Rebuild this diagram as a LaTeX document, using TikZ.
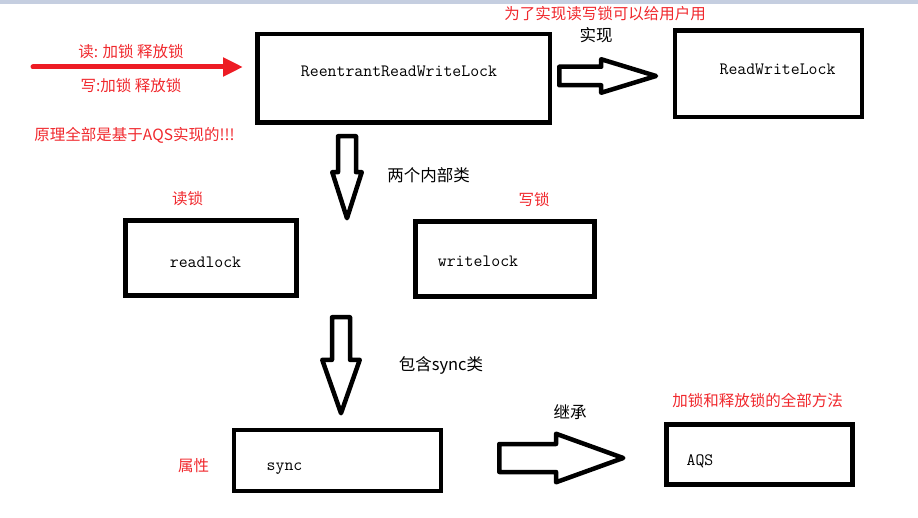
\documentclass[tikz,border=0pt]{standalone}
\usepackage{fontspec}
\newfontfamily\cjk{Noto Sans CJK SC}
\usepackage{tikz}
\usetikzlibrary{shapes.arrows, arrows.meta}
\definecolor{inkred}{RGB}{237,28,36}
\definecolor{notered}{RGB}{240,40,45}
\definecolor{topbar}{RGB}{197,206,224}

\begin{document}
\begin{tikzpicture}[
  x=1pt, y=-1pt,
  box/.style={rectangle, draw, line width=4.5pt, inner sep=0pt},
  code/.style={font=\ttfamily\fontsize{17.3}{17}\selectfont, inner sep=0pt, anchor=base},
  memo/.style={font=\cjk\fontsize{15.5}{16}\selectfont, text=notered, inner sep=0pt},
  remark/.style={font=\cjk\fontsize{16.5}{17}\selectfont, inner sep=0pt},
  fat/.style={single arrow, draw, line width=4.5pt, line join=round, inner xsep=0pt, minimum width=0pt, anchor=tail},
  fatdown/.style={fat, shape border rotate=270, inner ysep=0pt, inner xsep=#1},
  line/.style={-{Triangle[length=20pt,width=18pt]}, line width=5pt, line cap=round, draw=inkred}
]
\useasboundingbox (0,0) rectangle (918,518);
\fill[topbar] (0,0) rectangle (918,4);

% classes
\node[box, minimum width=292.5pt, minimum height=88.5pt] (rrwl) at (403.5,78.5) {};
\node[box, minimum width=187pt, minimum height=86.5pt] (rwl) at (768.5,73.8) {};
\node[box, minimum width=171pt, minimum height=75pt] (readlock) at (211.2,258) {};
\node[box, minimum width=179pt, minimum height=75pt] (writelock) at (505,259) {};
\node[box, minimum width=207pt, minimum height=61pt] (sync) at (337.5,460.5) {};
\node[box, minimum width=186pt, minimum height=60pt] (aqs) at (759.5,454.3) {};

\node[code] (rrwltxt) at (399,77) {ReentrantReadWriteLock};
\node[code] (rwltxt) at (777.5,75) {ReadWriteLock};
\node[code] (readlocktxt) at (205.5,268) {readlock};
\node[code] (writelocktxt) at (478,267) {writelock};
\node[code] (synctxt) at (284.5,470) {sync};
\node[code] (aqstxt) at (700,465) {AQS};

% block arrows
\node[fat, minimum height=96.75pt, inner ysep=7pt, single arrow head extend=7.5pt, single arrow tip angle=34] (impl) at (557,76) {};
\node[fatdown=6.75pt, minimum height=82pt, single arrow head extend=5.75pt, single arrow tip angle=35.5] (inner) at (347,134) {};
\node[fatdown=6.75pt, minimum height=96pt, single arrow head extend=9.75pt, single arrow tip angle=38.7] (contains) at (341,315) {};
\node[fat, minimum height=124pt, inner ysep=11.75pt, single arrow head extend=10.25pt, single arrow tip angle=39.7] (extends) at (497,458) {};

% notes
\node[memo] (readnote) at (131,52) {读: 加锁 释放锁};
\node[memo] (writenote) at (131,86) {写:加锁 释放锁};
\node[memo] (aqsnote) at (134.5,135.5) {原理全部是基于AQS实现的!!!};
\node[memo] (usernote) at (605,14) {为了实现读写锁可以给用户用};
\node[remark] (impltxt) at (596,35.5) {实现};
\node[remark] (innertxt) at (428.5,175.5) {两个内部类};
\node[memo] (readtag) at (187.5,198.5) {读锁};
\node[memo] (writetag) at (534,200) {写锁};
\node[remark] (containtxt) at (441,365) {包含sync类};
\node[remark] (extendtxt) at (570,412.5) {继承};
\node[memo] (methodnote) at (757.5,400.5) {加锁和释放锁的全部方法};
\node[memo] (attrtag) at (193.5,465.5) {属性};

\coordinate (src) at (33,67);
\draw[line, shorten >=12pt] (src) -- (src -| rrwl.west);

\end{tikzpicture}
\end{document}
